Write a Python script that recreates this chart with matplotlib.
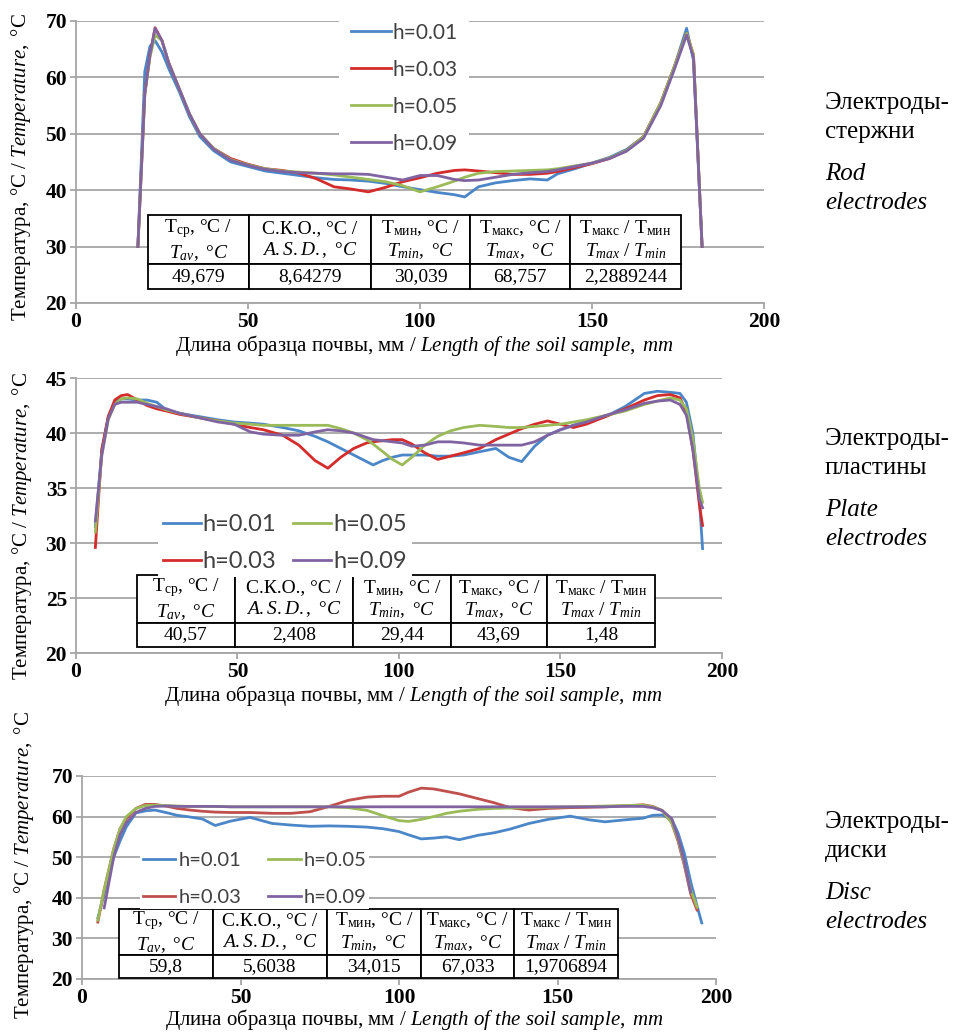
import numpy as np
import matplotlib
matplotlib.use('Agg')
import matplotlib.pyplot as plt

plt.rcParams['font.family'] = ['Liberation Serif', 'DejaVu Serif']
plt.rcParams['mathtext.fontset'] = 'custom'
plt.rcParams['mathtext.rm'] = 'Liberation Serif'
plt.rcParams['mathtext.it'] = 'Liberation Serif:italic'
plt.rcParams['mathtext.bf'] = 'Liberation Serif:bold'

labels = ['h=0.01', 'h=0.03', 'h=0.05', 'h=0.09']
xticks = [0, 50, 100, 150, 200]

# rod electrodes
rod_x = [18, 20, 21.5, 23, 25, 27, 30, 33, 36, 40, 45, 50, 55, 60, 65, 70, 75, 80, 85, 90,
         95, 100, 105, 110, 113, 117, 122, 127, 132, 137, 140, 145, 150, 155, 160, 165, 170,
         174, 177.5, 179.5, 182]
rod_h001 = [30, 61, 65.5, 66.5, 64.5, 61.5, 57.5, 53, 49.5, 47.0, 45.0, 44.2, 43.4, 43.0, 42.6,
            42.2, 41.9, 41.8, 41.6, 41.2, 40.6, 40.1, 39.6, 39.2, 38.8, 40.6, 41.3, 41.7, 42.0,
            41.8, 42.9, 43.8, 44.8, 45.8, 47.2, 49.5, 55.5, 62, 68.7, 63, 30]
rod_h003 = [30, 57, 64, 68.8, 66.5, 62.5, 58, 53.5, 50, 47.4, 45.6, 44.6, 43.8, 43.5, 43.0,
            42.0, 40.6, 40.2, 39.7, 40.5, 41.5, 42.2, 43.0, 43.5, 43.6, 43.4, 43.1, 42.8, 42.8,
            43.0, 43.3, 44.0, 44.7, 45.6, 47.0, 49.5, 55.5, 62, 67.8, 64, 30]
rod_h005 = [30, 57, 63.5, 67.5, 66.5, 62.5, 58, 53.5, 50, 47.4, 45.4, 44.5, 43.8, 43.4, 43.2,
            43.0, 42.7, 42.3, 41.9, 41.5, 40.8, 39.7, 40.6, 41.6, 42.3, 43.0, 43.3, 43.4, 43.5,
            43.6, 43.8, 44.3, 44.8, 45.7, 47.0, 49.5, 55.5, 62, 67.8, 64, 30]
rod_h009 = [30, 57, 64, 68.7, 66.5, 62.5, 58, 53.5, 50, 47.3, 45.3, 44.4, 43.7, 43.3, 43.1,
            43.0, 42.9, 42.9, 42.8, 42.3, 41.8, 42.6, 42.6, 41.9, 41.7, 41.8, 42.3, 42.8, 43.1,
            43.3, 43.6, 44.2, 44.8, 45.6, 46.9, 49.2, 55, 61.5, 67.5, 63.5, 30]
rod_stats = ['49,679', '8,64279', '30,039', '68,757', '2,2889244']

# plate electrodes
plate_x = [6, 8, 10, 12, 14, 16, 19, 22, 25, 28, 32, 38, 44, 49, 54, 58, 64, 69, 74, 78, 82,
           86, 90, 92, 95, 98, 101, 104, 108, 112, 116, 120, 125, 130, 134, 138, 142, 146, 150,
           154, 158, 164, 170, 176, 180, 184, 187, 189, 191, 193, 194]
plate_h001 = [31.5, 38.5, 41.5, 42.8, 43.1, 43.1, 43.0, 43.0, 42.8, 42.1, 41.8, 41.5, 41.2,
              41.0, 40.9, 40.8, 40.5, 40.2, 39.7, 39.2, 38.6, 38.0, 37.4, 37.1, 37.5, 37.8,
              38.0, 38.0, 38.0, 37.9, 37.9, 38.0, 38.3, 38.6, 37.8, 37.4, 38.8, 39.8, 40.3,
              40.7, 41.0, 41.5, 42.4, 43.6, 43.8, 43.7, 43.6, 42.8, 40.0, 34.0, 29.5]
plate_h003 = [29.6, 38.5, 41.5, 43.0, 43.4, 43.5, 43.0, 42.5, 42.2, 42.0, 41.7, 41.4, 41.1,
              40.8, 40.5, 40.3, 39.8, 38.9, 37.5, 36.8, 37.8, 38.6, 39.1, 39.2, 39.3, 39.4,
              39.4, 39.0, 38.2, 37.6, 37.9, 38.2, 38.6, 39.4, 39.9, 40.4, 40.8, 41.1, 40.8,
              40.5, 40.8, 41.5, 42.2, 43.0, 43.4, 43.5, 43.2, 41.9, 38.5, 33.5, 31.6]
plate_h005 = [31.0, 38.0, 41.2, 42.6, 43.1, 43.2, 43.1, 42.7, 42.4, 42.1, 41.8, 41.4, 41.1,
              40.9, 40.8, 40.7, 40.7, 40.7, 40.7, 40.7, 40.4, 40.0, 39.4, 39.0, 38.3, 37.6,
              37.1, 37.8, 38.9, 39.7, 40.2, 40.5, 40.7, 40.6, 40.5, 40.5, 40.6, 40.7, 40.8,
              41.0, 41.2, 41.6, 42.0, 42.6, 42.9, 43.2, 43.0, 42.2, 39.5, 35.0, 33.7]
plate_h009 = [32.0, 38.0, 41.3, 42.6, 42.8, 42.8, 42.8, 42.6, 42.4, 42.2, 41.8, 41.4, 41.0,
              40.8, 40.1, 39.9, 39.8, 39.8, 40.1, 40.3, 40.2, 40.0, 39.6, 39.4, 39.3, 39.2,
              39.1, 38.8, 38.9, 39.2, 39.2, 39.1, 38.9, 38.9, 38.9, 38.9, 39.2, 39.8, 40.3,
              40.7, 41.0, 41.6, 42.1, 42.7, 42.9, 43.0, 42.6, 41.6, 38.5, 34.0, 33.2]
plate_stats = ['40,57', '2,408', '29,44', '43,69', '1,48']

# disc electrodes
disc_x = [5, 7, 10, 12, 14, 17, 20, 23, 27, 30, 34, 38, 42, 47, 53, 60, 66, 72, 78, 84, 90,
          95, 100, 103, 107, 111, 115, 119, 125, 130, 135, 141, 147, 154, 160, 165, 170, 177,
          180, 183, 186, 188, 190, 192, 194, 195.5]
disc_h001 = [35, 41, 50, 54, 57.5, 60.9, 61.4, 61.6, 60.9, 60.3, 59.9, 59.4, 57.8, 58.9, 59.8,
             58.3, 57.9, 57.6, 57.7, 57.6, 57.4, 57.0, 56.3, 55.5, 54.5, 54.7, 55.0, 54.3,
             55.4, 56.0, 56.9, 58.3, 59.3, 60.1, 59.2, 58.7, 59.1, 59.6, 60.3, 60.4, 59.4, 56,
             51, 44, 38, 33.8]
disc_h003 = [34, 42, 52, 57, 59.5, 62, 63, 63, 62.5, 62, 61.6, 61.3, 61.1, 61.0, 61.0, 60.8,
             60.8, 61.2, 62.5, 64.0, 64.8, 65.0, 65.0, 66.0, 67.0, 66.8, 66.2, 65.6, 64.4,
             63.4, 62.2, 61.6, 62.0, 62.2, 62.3, 62.4, 62.6, 62.9, 62.5, 61.5, 58.5, 54, 48,
             41, 37, np.nan]
disc_h005 = [34.5, 42, 52, 57, 60, 62, 62.7, 62.8, 62.7, 62.6, 62.5, 62.5, 62.5, 62.4, 62.4,
             62.4, 62.4, 62.4, 62.4, 62.2, 61.5, 60.2, 59.0, 58.8, 59.3, 60.0, 60.8, 61.3, 61.8,
             62.0, 62.1, 62.2, 62.3, 62.4, 62.5, 62.6, 62.7, 62.8, 62.4, 61.5, 58.5, 54.5,
             48.5, 42, 37.7, np.nan]
disc_h009 = [np.nan, 37.5, 50, 55.5, 58.5, 61, 62, 62.5, 62.6, 62.5, 62.5, 62.5, 62.5, 62.4,
             62.4, 62.4, 62.4, 62.4, 62.4, 62.4, 62.4, 62.4, 62.4, 62.4, 62.4, 62.4, 62.4, 62.4,
             62.4, 62.4, 62.4, 62.4, 62.4, 62.4, 62.4, 62.4, 62.5, 62.5, 62.2, 61.5, 59.5, 55,
             49, 41.4, np.nan, np.nan]
disc_stats = ['59,8', '5,6038', '34,015', '67,033', '1,9706894']

headers = ['Т$_\\mathrm{ср}$, °С /\n$T_{av},\\ °C$',
           'С.К.О., °С /\n$A.S.D.,\\ °C$',
           'Т$_\\mathrm{мин}$, °С /\n$T_{min},\\ °C$',
           'Т$_\\mathrm{макс}$, °С /\n$T_{max},\\ °C$',
           'Т$_\\mathrm{макс}$ / Т$_\\mathrm{мин}$\n$T_{max}\\ /\\ T_{min}$']

ylabel = 'Температура, °С / $\\mathit{Temperature,}$ °С'
xlabel = 'Длина образца почвы, мм / $\\mathit{Length\\ of\\ the\\ soil\\ sample,\\ mm}$'

grid_col = '#a6a6a6'


def plot_panel(fig, rect, x, series, colors, ylim, ystep, stats, tab_bbox, col_w,
               leg_anchor, leg_kw, ylab_pos, xlab_pos, side_ru, side_en, side_y):
    ax = fig.add_axes(rect)
    for s, c, lab in zip(series, colors, labels):
        ax.plot(x, s, color=c, lw=2.0, label=lab, zorder=4)
    ax.set_xlim(0, 200)
    ax.set_ylim(*ylim)
    yticks = list(range(ylim[0], ylim[1] + 1, ystep))
    tick_font = dict(fontfamily='Liberation Serif', fontweight='bold', fontsize=15.5)
    ax.set_xticks(xticks, labels=[str(v) for v in xticks], **tick_font)
    ax.set_yticks(yticks, labels=[str(v) for v in yticks], **tick_font)
    ax.grid(axis='y', color=grid_col, lw=1.3)
    ax.set_axisbelow(True)
    for sp in ['top', 'right']:
        ax.spines[sp].set_visible(False)
    for sp in ['left', 'bottom']:
        ax.spines[sp].set_color(grid_col)
        ax.spines[sp].set_linewidth(1.3)
    ax.tick_params(length=4.5, width=1.3, color=grid_col, pad=2)

    tab = ax.table(cellText=[headers, stats], cellLoc='center', colWidths=col_w,
                   bbox=tab_bbox)
    tab.auto_set_font_size(False)
    tab.set_fontsize(14)
    tab.set_zorder(3)
    for (r, c), cell in tab.get_celld().items():
        cell.set_height(2 if r == 0 else 1)
        cell.set_linewidth(1.3)
        cell.get_text().set_multialignment('center')

    leg = ax.legend(loc='upper left', bbox_to_anchor=leg_anchor, frameon=True,
                    fancybox=False, framealpha=1, edgecolor='none', borderaxespad=0,
                    labelcolor='#404040', **leg_kw)
    leg.set_zorder(5)

    ax.text(ylab_pos[0], ylab_pos[1], ylabel, transform=ax.transAxes, rotation=90,
            ha='center', va='center', fontsize=15)
    ax.text(xlab_pos[0], xlab_pos[1], xlabel, transform=ax.transAxes,
            ha='center', va='center', fontsize=15)

    fig.text(0.861, side_y[0], side_ru, fontsize=18, va='top', linespacing=1.4)
    fig.text(0.861, side_y[1], side_en, fontsize=18, va='top', linespacing=1.4,
             style='italic')
    return ax


fig = plt.figure(figsize=(9.58, 10.32), dpi=100)

plot_panel(fig, [0.0793, 0.7064, 0.7182, 0.2733], rod_x,
           [rod_h001, rod_h003, rod_h005, rod_h009],
           ['#4a86c8', '#d42b2b', '#9bbb59', '#8064a2'], (20, 70), 10, rod_stats,
           [0.1047, 0.0496, 0.7747, 0.2624], [101, 122, 99, 100, 111],
           (0.383, 1.035),
           dict(ncol=1, prop={'family': 'Lato', 'size': 15}, handlelength=1.9,
                handletextpad=0.1, labelspacing=0.82, borderpad=0.55),
           (-0.080, 0.482), (0.506, -0.150),
           'Электроды-\nстержни', 'Rod\nelectrodes', (1 - 92 / 1032, 1 - 163 / 1032))

plot_panel(fig, [0.0793, 0.3672, 0.6743, 0.2665], plate_x,
           [plate_h001, plate_h003, plate_h005, plate_h009],
           ['#4a86c8', '#d42b2b', '#9bbb59', '#8064a2'], (20, 45), 5, plate_stats,
           [0.0944, 0.0218, 0.8019, 0.2618], [98, 118, 98, 96, 108],
           (0.127, 0.523),
           dict(ncol=2, prop={'family': 'Lato', 'size': 17}, handlelength=1.6,
                handletextpad=0.1, labelspacing=0.7, columnspacing=0.7, borderpad=0.2),
           (-0.0836, 0.462), (0.522, -0.155),
           'Электроды-\nпластины', 'Plate\nelectrodes', (1 - 428 / 1032, 1 - 499 / 1032))

plot_panel(fig, [0.0856, 0.0514, 0.6618, 0.1967], disc_x,
           [disc_h001, disc_h003, disc_h005, disc_h009],
           ['#4a86c8', '#c0504d', '#9bbb59', '#8064a2'], (20, 70), 10, disc_stats,
           [0.0584, 0.005, 0.787, 0.34], [94, 114, 94, 93, 104],
           (0.0915, 0.64),
           dict(ncol=2, prop={'family': 'Lato', 'size': 14.5}, handlelength=1.6,
                handletextpad=0.15, labelspacing=1.0, columnspacing=1.35, borderpad=0.15),
           (-0.092, 0.562), (0.524, -0.200),
           'Электроды-\nдиски', 'Disc\nelectrodes', (1 - 811 / 1032, 1 - 882 / 1032))

fig.savefig('out.png', dpi=100)
